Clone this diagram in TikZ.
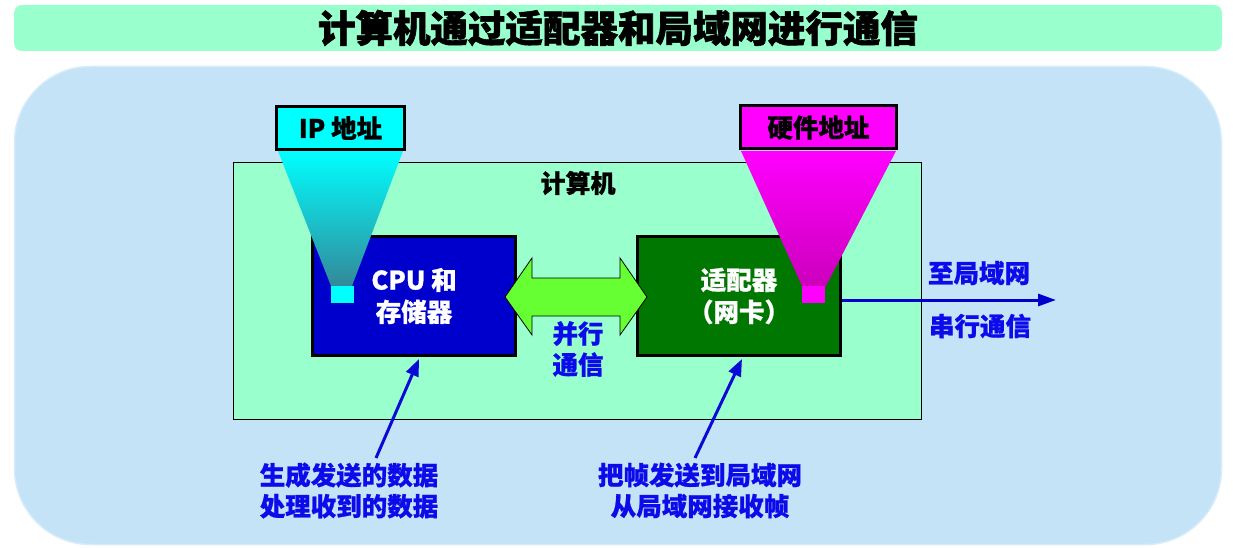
\documentclass[tikz,border=0pt]{standalone}
\usepackage{fontspec}
\setmainfont{Noto Sans CJK SC}[BoldFeatures={FakeBold=0.8}]
\newfontfamily\heavy{Noto Sans CJK SC}[BoldFeatures={FakeBold=1.6}]
\usetikzlibrary{arrows.meta}
\definecolor{paleblue}{RGB}{197,227,247}
\definecolor{paleedge}{RGB}{215,236,250}
\definecolor{mint}{RGB}{153,255,204}
\definecolor{cpublue}{RGB}{0,0,204}
\definecolor{nicgreen}{RGB}{0,119,0}
\definecolor{lime}{RGB}{102,255,51}
\definecolor{txtblue}{RGB}{12,12,235}
\definecolor{lineblue}{RGB}{10,10,215}
\definecolor{teal}{RGB}{51,136,153}
\definecolor{plum}{RGB}{204,0,187}
\definecolor{aqua}{RGB}{0,255,255}
\definecolor{fuchsia}{RGB}{255,0,255}
\tikzset{
  lbl/.style={font=\fontsize{25.5}{31}\selectfont\bfseries, text=txtblue, align=center, inner sep=0pt},
  unitbox/.style={draw=black, line width=3pt, minimum width=203pt, minimum height=119pt, inner sep=0pt,
     text=white, align=center, font=\fontsize{25.5}{32}\selectfont\bfseries},
  tagbox/.style={draw=black, line width=3pt, minimum height=43pt, inner sep=0pt,
     font=\fontsize{25.5}{30}\selectfont\bfseries},
  port/.style={minimum width=23pt, minimum height=17pt, inner sep=0pt},
  ptr/.style={draw=lineblue, line width=3pt, -{Triangle[length=17pt,width=13pt]}},
}
\begin{document}
\begin{tikzpicture}[x=1pt,y=-1pt]
\useasboundingbox (0,0) rectangle (1233,548);
% title
\node[fill=mint, rounded corners=8pt, minimum width=1208pt, minimum height=46pt, inner sep=0pt] (titlebar) at (618,28) {};
\node[font=\fontsize{37.5}{42}\selectfont\heavy\bfseries, inner sep=0pt] (title) at (618,28) {计算机通过适配器和局域网进行通信};
% outer region
\node[fill=paleblue, draw=paleedge, line width=1.5pt, rounded corners=76pt, minimum width=1207pt, minimum height=478pt, inner sep=0pt] (region) at (618,305.5) {};
% computer
\node[fill=mint, draw=black, line width=0.8pt, minimum width=688pt, minimum height=257pt, inner sep=0pt] (pc) at (577,290.5) {};
\node[font=\fontsize{25}{30}\selectfont\bfseries, inner sep=0pt] (pclabel) at (578,183) {计算机};
% units
\node[unitbox, fill=cpublue] (cpu) at (414,296) {CPU 和\\存储器};
\node[unitbox, fill=nicgreen] (nic) at (739,296) {适配器\\（网卡）};
% parallel double arrow
\draw[fill=lime, draw=black, line width=0.8pt]
  (505,297) -- (532,258) -- (532,278) -- (620,278) -- (620,258) -- (647,297)
  -- (620,335) -- (620,316) -- (532,316) -- (532,335) -- cycle;
\node[lbl] (par) at (578,349) {并行\\通信};
% IP address cone
\shade[top color=aqua, bottom color=teal] (278,151) -- (403,151) -- (352,286) -- (331,286) -- cycle;
\node[port, fill=aqua] (ipport) at (342,294) {};
\node[tagbox, fill=aqua, minimum width=128pt] (ip) at (340.5,128) {IP 地址};
% hardware address cone
\shade[top color=fuchsia, bottom color=plum] (741,151) -- (896,151) -- (826,286) -- (802,286) -- cycle;
\node[port, fill=fuchsia] (hwport) at (813.5,294) {};
\node[tagbox, fill=fuchsia, minimum width=156pt] (hw) at (818.5,127.5) {硬件地址};
% LAN arrow
\coordinate (lan) at (1056,300);
\draw[draw=cpublue, line width=3pt, -{Triangle[length=18pt,width=12pt]}] (nic.east |- lan) -- (lan);
\node[lbl] (to) at (979,273) {至局域网};
\node[lbl] (ser) at (980,326) {串行通信};
% callouts
\coordinate (c1) at (376,458);
\coordinate (c2) at (695,458);
\draw[ptr] (c1) -- (419,359);
\draw[ptr] (c2) -- (742,359);
\node[lbl] (cpunote) at (349,490.5) {生成发送的数据\\处理收到的数据};
\node[lbl] (nicnote) at (700,490.5) {把帧发送到局域网\\从局域网接收帧};
\end{tikzpicture}
\end{document}
